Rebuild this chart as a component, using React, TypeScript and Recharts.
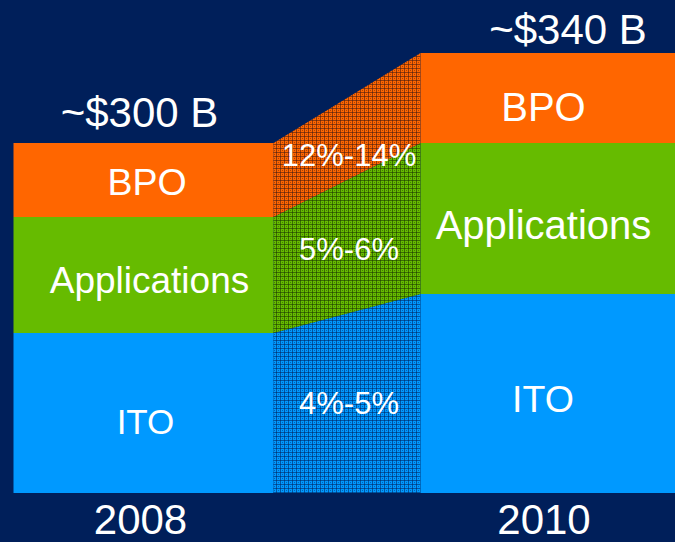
import React from 'react';
import { BarChart, Bar, XAxis, YAxis, LabelList } from 'recharts';

// ---- data ----
const YEARS = ['2008', '2010'];
const SEGMENTS = ['ITO', 'Applications', 'BPO'];
const ITO = [160, 199];
const APPLICATIONS = [116, 151];
const BPO = [74, 90];
const TOTAL_LABELS = ['~$300 B', '~$340 B'];
const GROWTH_LABELS = ['4%-5%', '5%-6%', '12%-14%'];

const SERIES = [ITO, APPLICATIONS, BPO];
const rows = YEARS.map((year, i) => ({
  year,
  ITO: ITO[i],
  Applications: APPLICATIONS[i],
  BPO: BPO[i],
}));

// ---- styles / layout ----
const NAVY = '#001F5A';
const COLORS = ['#0099FF', '#66BB00', '#FF6600'];
const HATCH_LINES = ['#002a66', '#1c3a00', '#4a1c10'];
const FONT = '"Liberation Sans", Arial, Helvetica, sans-serif';

const SHIFT = 100;
const CHART_W = 900;
const CHART_H = 542;
const PAD_L = 39.5;
const PAD_R = 46.5;
const BAR_SIZE = 260;
const BAND = (CHART_W - PAD_L - PAD_R) / 2;
const GAP = BAND - BAR_SIZE;

const NAME_FS = [[35, 37.5], [37, 40], [37.5, 40]];
const NAME_BASE = [[21, 18], [18, 20.5], [15, 23]];
const NAME_DX = [[2, -7.5], [6, -7], [3.5, -7]];
const GROWTH_FS = 31;
const GROWTH_DY = [11, 13, 27];
const TOTAL_FS = 42;
const TOTAL_DX = [-4, 17.5];
const TOTAL_DY = [-16, -9];
const TICK_FS = 42;
const TICK_DX = [-2.5, -6];

const lowOf = (s: number, i: number) =>
  SERIES.slice(0, s).reduce((a, arr) => a + arr[i], 0);

function makeShape(s: number) {
  return (props: any) => {
    const { x, y, width, height, index } = props;
    const v = SERIES[s][index];
    const k = height / v;
    const yBase = y + height + lowOf(s, index) * k;
    const els: any[] = [
      <rect key="r" x={x} y={y} width={width} height={height} fill={COLORS[s]} />,
    ];
    if (index === 0) {
      const nLow = lowOf(s, 1);
      const nHigh = nLow + SERIES[s][1];
      const x1 = x + width;
      const x2 = x + width + GAP;
      const yt2 = yBase - nHigh * k;
      const yb2 = yBase - nLow * k;
      const pts = `${x1},${y} ${x2},${yt2} ${x2},${yb2} ${x1},${y + height}`;
      els.push(<polygon key="c" points={pts} fill={`url(#hatch-${s})`} />);
      const cx = (x1 + x2) / 2;
      const cy = ((y + yt2) / 2 + (y + height + yb2) / 2) / 2;
      els.push(
        <text
          key="t"
          x={cx + 2}
          y={cy + GROWTH_DY[s]}
          textAnchor="middle"
          fill="#fff"
          fontSize={GROWTH_FS}
          fontFamily={FONT}
        >
          {GROWTH_LABELS[s]}
        </text>
      );
    }
    return <g>{els}</g>;
  };
}

function nameLabel(s: number) {
  return (props: any) => {
    const vb = props.viewBox || props;
    const i = props.index ?? 0;
    const cx = vb.x + vb.width / 2 + NAME_DX[s][i];
    const cy = vb.y + vb.height / 2 + NAME_BASE[s][i];
    return (
      <text x={cx} y={cy} textAnchor="middle" fill="#fff" fontSize={NAME_FS[s][i]} fontFamily={FONT}>
        {SEGMENTS[s]}
      </text>
    );
  };
}

function totalLabel(props: any) {
  const vb = props.viewBox || props;
  const i = props.index ?? 0;
  return (
    <text
      x={vb.x + vb.width / 2 + TOTAL_DX[i]}
      y={vb.y + TOTAL_DY[i]}
      textAnchor="middle"
      fill="#fff"
      fontSize={TOTAL_FS}
      fontFamily={FONT}
    >
      {TOTAL_LABELS[i]}
    </text>
  );
}

function YearTick(props: any) {
  const { x, y, payload, index } = props;
  return (
    <text
      x={x + (TICK_DX[index] ?? 0)}
      y={y + 35}
      textAnchor="middle"
      fill="#fff"
      fontSize={TICK_FS}
      fontFamily={FONT}
    >
      {payload.value}
    </text>
  );
}

export default function App() {
  return (
    <div
      style={{
        position: 'fixed',
        left: 0,
        top: 0,
        width: 675,
        height: 542,
        overflow: 'hidden',
        background: NAVY,
      }}
    >
      <div style={{ position: 'absolute', left: -SHIFT, top: 0 }}>
        <BarChart
          width={CHART_W}
          height={CHART_H}
          data={rows}
          margin={{ top: 53, right: 0, bottom: 0, left: 0 }}
          barSize={BAR_SIZE}
        >
          <defs>
            {COLORS.map((c, s) => (
              <pattern
                key={s}
                id={`hatch-${s}`}
                width={4}
                height={4}
                patternUnits="userSpaceOnUse"
              >
                <rect width={4} height={4} fill={c} />
                <rect width={4} height={1} fill={HATCH_LINES[s]} opacity={0.6} />
                <rect width={1} height={4} fill={HATCH_LINES[s]} opacity={0.6} />
                <rect x={2} y={2} width={1} height={1} fill={HATCH_LINES[s]} opacity={0.45} />
              </pattern>
            ))}
          </defs>
          <XAxis
            dataKey="year"
            axisLine={false}
            tickLine={false}
            tickMargin={0}
            height={49}
            padding={{ left: PAD_L, right: PAD_R }}
            tick={<YearTick />}
            interval={0}
          />
          <YAxis hide domain={[0, 440]} />
          {SEGMENTS.map((name, s) => (
            <Bar
              key={name}
              dataKey={name}
              stackId="a"
              fill={COLORS[s]}
              shape={makeShape(s)}
              isAnimationActive={false}
            >
              <LabelList dataKey={name} content={nameLabel(s)} />
              {s === 2 ? <LabelList dataKey={name} content={totalLabel} /> : null}
            </Bar>
          ))}
        </BarChart>
      </div>
    </div>
  );
}
